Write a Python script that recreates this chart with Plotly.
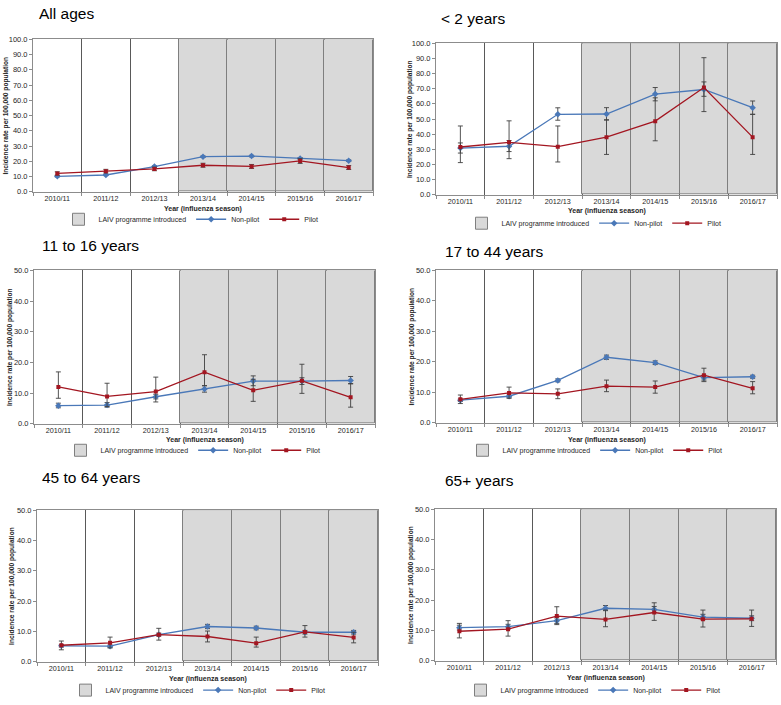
import numpy as np
import plotly.graph_objects as go

# ---------------- data ----------------
seasons = ["2010/11", "2011/12", "2012/13", "2013/14", "2014/15", "2015/16", "2016/17"]
laiv_introduced = [0, 0, 0, 1, 1, 1, 1]

panel_titles = ["All ages", "< 2 years", "11 to 16 years", "17 to 44 years", "45 to 64 years", "65+ years"]
y_max = [100, 100, 50, 50, 50, 50]

# All ages
all_nonpilot = [10.1, 11.0, 16.5, 23.0, 23.4, 21.9, 20.4]
all_nonpilot_lo = [9.7, 10.6, 16.0, 22.5, 22.9, 21.4, 19.9]
all_nonpilot_hi = [10.5, 11.4, 17.0, 23.5, 23.9, 22.4, 20.9]
all_pilot = [12.0, 13.5, 15.0, 17.4, 16.6, 20.2, 15.9]
all_pilot_lo = [10.9, 12.3, 13.8, 16.1, 15.3, 18.6, 14.6]
all_pilot_hi = [13.1, 14.7, 16.2, 18.7, 17.9, 21.8, 17.2]

# < 2 years
u2_nonpilot = [30.8, 32.0, 53.1, 53.3, 66.5, 69.5, 57.5]
u2_nonpilot_lo = [27.5, 28.5, 49.2, 49.3, 62.0, 65.0, 53.1]
u2_nonpilot_hi = [34.2, 35.8, 57.4, 57.5, 70.8, 74.5, 61.9]
u2_pilot = [31.5, 34.6, 31.7, 38.0, 48.6, 70.8, 38.0]
u2_pilot_lo = [21.2, 23.8, 21.6, 26.6, 35.6, 54.9, 26.6]
u2_pilot_hi = [45.4, 48.8, 45.4, 49.5, 64.0, 90.5, 53.1]

# 11 to 16 years
c11_nonpilot = [5.9, 6.1, 8.8, 11.3, 13.9, 13.9, 14.1]
c11_nonpilot_lo = [5.2, 5.4, 8.1, 10.3, 12.4, 12.8, 13.0]
c11_nonpilot_hi = [6.7, 6.9, 9.6, 12.4, 15.6, 15.0, 15.4]
c11_pilot = [12.0, 8.9, 10.5, 16.8, 10.9, 14.0, 8.6]
c11_pilot_lo = [8.3, 5.6, 7.1, 12.4, 7.3, 9.9, 5.4]
c11_pilot_hi = [16.9, 13.2, 15.2, 22.5, 14.5, 19.4, 13.1]

# 17 to 44 years
a17_nonpilot = [7.4, 8.7, 13.9, 21.5, 19.7, 14.8, 15.1]
a17_nonpilot_lo = [7.0, 8.3, 13.4, 20.8, 19.1, 14.0, 14.6]
a17_nonpilot_hi = [7.8, 9.1, 14.4, 22.2, 20.3, 15.6, 15.6]
a17_pilot = [7.7, 9.8, 9.5, 12.0, 11.7, 15.6, 11.3]
a17_pilot_lo = [6.3, 8.0, 7.9, 10.2, 9.7, 13.5, 9.5]
a17_pilot_hi = [9.1, 11.7, 11.1, 14.0, 13.7, 17.9, 13.5]

# 45 to 64 years
a45_nonpilot = [5.2, 5.1, 8.9, 11.6, 11.1, 9.7, 9.7]
a45_nonpilot_lo = [4.8, 4.7, 8.4, 10.9, 10.5, 9.1, 9.1]
a45_nonpilot_hi = [5.6, 5.5, 9.4, 12.3, 11.7, 10.3, 10.3]
a45_pilot = [5.4, 6.2, 8.9, 8.3, 6.1, 9.8, 8.0]
a45_pilot_lo = [3.9, 4.5, 7.1, 6.5, 4.8, 8.1, 6.2]
a45_pilot_hi = [6.8, 8.1, 11.0, 10.1, 8.1, 11.9, 9.7]

# 65+ years
a65_nonpilot = [10.9, 11.2, 13.2, 17.3, 16.9, 14.4, 14.0]
a65_nonpilot_lo = [10.1, 10.4, 12.3, 16.5, 15.9, 13.5, 13.2]
a65_nonpilot_hi = [11.7, 12.0, 14.1, 18.2, 17.9, 15.3, 14.8]
a65_pilot = [9.7, 10.4, 14.7, 13.6, 15.9, 13.7, 13.8]
a65_pilot_lo = [7.5, 8.1, 11.9, 11.2, 13.3, 11.1, 11.3]
a65_pilot_hi = [12.3, 13.2, 17.8, 16.7, 19.1, 16.7, 16.7]

panels = [
    (all_nonpilot, all_nonpilot_lo, all_nonpilot_hi, all_pilot, all_pilot_lo, all_pilot_hi),
    (u2_nonpilot, u2_nonpilot_lo, u2_nonpilot_hi, u2_pilot, u2_pilot_lo, u2_pilot_hi),
    (c11_nonpilot, c11_nonpilot_lo, c11_nonpilot_hi, c11_pilot, c11_pilot_lo, c11_pilot_hi),
    (a17_nonpilot, a17_nonpilot_lo, a17_nonpilot_hi, a17_pilot, a17_pilot_lo, a17_pilot_hi),
    (a45_nonpilot, a45_nonpilot_lo, a45_nonpilot_hi, a45_pilot, a45_pilot_lo, a45_pilot_hi),
    (a65_nonpilot, a65_nonpilot_lo, a65_nonpilot_hi, a65_pilot, a65_pilot_lo, a65_pilot_hi),
]

# ---------------- layout geometry (pixels) ----------------
W, H = 781, 705
boxes = [(33, 36, 373, 191), (436, 40, 777, 194), (34, 271, 375, 427),
         (436, 271, 777, 426), (37, 515, 378, 669), (435, 514, 776, 668)]
title_pos = [(37, 10), (439, 15), (40, 246), (443, 252), (40, 482), (443, 485)]
legend_cx = [191, 594, 193, 595, 198, 593]
legend_y = [219, 223, 454, 454, 698, 698]
xtitle_y = [209, 211, 444, 444, 687, 686]
ytitle_x = [6, 410, 10, 412, 12, 411]

FONT = "Liberation Sans, Arial, sans-serif"
BLUE = "#4A78B8"
RED = "#A31621"
ERR = "#404040"
AXC = "#8c8c8c"

fig = go.Figure()
annotations = []
layout_axes = {}

for i in range(6):
    k = i + 1
    xa = "x" if k == 1 else f"x{k}"
    ya = "y" if k == 1 else f"y{k}"
    leg = "legend" if k == 1 else f"legend{k}"
    l, t, r, b = boxes[i]
    ymax = y_max[i]
    npv, nplo, nphi, pv, plo, phi = [np.array(a, dtype=float) for a in panels[i]]

    fig.add_trace(go.Bar(
        x=seasons, y=[ymax if f else None for f in laiv_introduced],
        name="LAIV programme introduced", width=1,
        marker=dict(color="#d9d9d9", line=dict(color="#7f7f7f", width=1)),
        xaxis=xa, yaxis=ya, legend=leg, hoverinfo="skip"))
    fig.add_trace(go.Scatter(
        x=seasons, y=npv, name="Non-pilot", mode="lines+markers",
        line=dict(color=BLUE, width=1.3),
        marker=dict(symbol="diamond", size=5, color=BLUE),
        error_y=dict(type="data", symmetric=False, array=nphi - npv, arrayminus=npv - nplo,
                     color=ERR, thickness=0.9, width=2.5),
        xaxis=xa, yaxis=ya, legend=leg))
    fig.add_trace(go.Scatter(
        x=seasons, y=pv, name="Pilot", mode="lines+markers",
        line=dict(color=RED, width=1.3),
        marker=dict(symbol="square", size=4, color=RED),
        error_y=dict(type="data", symmetric=False, array=phi - pv, arrayminus=pv - plo,
                     color=ERR, thickness=0.9, width=2.5),
        xaxis=xa, yaxis=ya, legend=leg))

    xkey = "xaxis" if k == 1 else f"xaxis{k}"
    ykey = "yaxis" if k == 1 else f"yaxis{k}"
    layout_axes[xkey] = dict(
        domain=[l / W, r / W], anchor=ya, type="category", range=[-0.5, 6.5],
        tickson="boundaries", showgrid=True, gridcolor="#595959", gridwidth=1,
        ticks="outside", ticklen=3, tickcolor=AXC, showline=True, linecolor=AXC,
        mirror=True, tickfont=dict(family=FONT, size=7.2, color="#262626"),
        fixedrange=True)
    layout_axes[ykey] = dict(
        domain=[1 - b / H, 1 - t / H], anchor=xa, range=[0, ymax], dtick=10,
        tickformat=".1f", ticks="outside", ticklen=3, tickcolor=AXC,
        showgrid=False, zeroline=False, showline=True, linecolor=AXC, mirror=True,
        tickfont=dict(family=FONT, size=7.5, color="#262626"), fixedrange=True)

    layout_axes[leg] = dict(
        orientation="h", x=legend_cx[i] / W, xanchor="center",
        y=1 - legend_y[i] / H, yanchor="middle",
        font=dict(family=FONT, size=7, color="#262626"),
        bgcolor="rgba(0,0,0,0)", itemwidth=30, tracegroupgap=0)

    tx, ty = title_pos[i]
    annotations.append(dict(text=panel_titles[i], x=tx / W, y=1 - ty / H,
                            xref="paper", yref="paper", xanchor="left", yanchor="middle",
                            showarrow=False, font=dict(family=FONT, size=15.5, color="black")))
    annotations.append(dict(text="<b>Year (influenza season)</b>", x=(l + r) / 2 / W,
                            y=1 - xtitle_y[i] / H, xref="paper", yref="paper",
                            xanchor="center", yanchor="middle", showarrow=False,
                            font=dict(family=FONT, size=7, color="#262626")))
    annotations.append(dict(text="<b>Incidence rate per 100,000 population</b>",
                            x=ytitle_x[i] / W, y=1 - (t + b) / 2 / H,
                            xref="paper", yref="paper", xanchor="center", yanchor="middle",
                            textangle=-90, showarrow=False,
                            font=dict(family=FONT, size=6.6, color="#262626")))

fig.update_layout(
    width=W, height=H, autosize=False,
    margin=dict(l=0, r=0, t=0, b=0),
    paper_bgcolor="white", plot_bgcolor="white",
    barmode="overlay", bargap=0,
    annotations=annotations,
    font=dict(family=FONT),
    **layout_axes)

fig.write_html("out.html", config={"displayModeBar": False},
               post_script="document.body.style.margin='0';document.body.style.overflow='hidden';")
